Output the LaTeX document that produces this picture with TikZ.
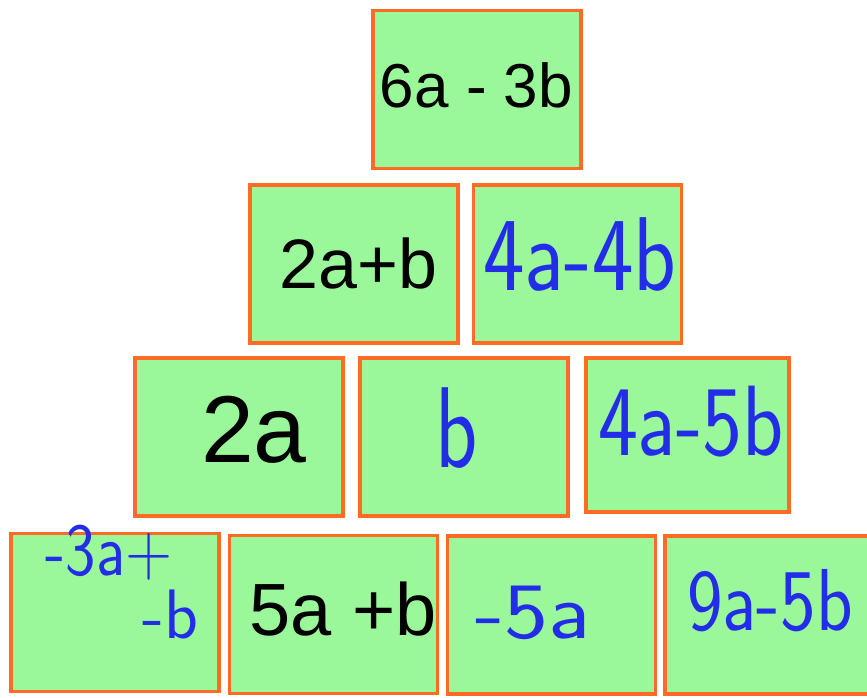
\documentclass[tikz,border=0pt]{standalone}
\usepackage{fontspec}
\setmainfont{Liberation Sans}
\definecolor{cellgreen}{RGB}{154,248,154}
\definecolor{cellorange}{RGB}{255,106,36}
\definecolor{inkblue}{RGB}{35,45,232}
\newcommand{\ink}[3]{\scalebox{#1}[1]{\fontsize{#2}{#2}\selectfont #3}}
\begin{document}
\begin{tikzpicture}[x=1pt,y=-1pt,
  cell/.style={draw=cellorange,fill=cellgreen,line width=3.5pt,minimum width=208pt,minimum height=158pt,inner sep=0pt},
  printed/.style={anchor=base,inner sep=0pt,text=black},
  hand/.style={anchor=base,inner sep=0pt,text=inkblue,font=\sffamily}]
  \useasboundingbox (0,0) rectangle (867,697);
  \node[cell] (top) at (477,89.5) {};
  \node[cell] (m1) at (354,264) {}; \node[cell] (m2) at (577.5,264) {};
  \node[cell] (l1) at (239,437) {}; \node[cell] (l2) at (464,437) {};
  \node[cell,minimum width=203pt,minimum height=154pt] (l3) at (687.5,435) {};
  \node[cell] (b1) at (115,612.5) {}; \node[cell] (b2) at (333.5,614.5) {};
  \node[cell] (b3) at (551.5,615) {}; \node[cell] (b4) at (769,615) {};
  \node[printed,font=\fontsize{62}{62}\selectfont] (ttop) at (476.5,107) {6a - 3b};
  \node[printed,font=\fontsize{70}{70}\selectfont] (tm1) at (358.5,288) {2a+b};
  \node[printed,font=\fontsize{95}{95}\selectfont] (tl1) at (254,462) {2a};
  \node[printed,font=\fontsize{74}{74}\selectfont] (tb2) at (343,635) {5a +b};
  \node[hand] (tm2) at (580,290) {\ink{0.84}{105}{4a-4b}};
  \node[hand] (tl2) at (457,467) {\ink{0.76}{115}{b}};
  \node[hand] (tl3) at (691,455) {\ink{0.85}{100}{4a-5b}};
  \node[hand] (tb3) at (533,638) {\ink{1.17}{80}{-5a}};
  \node[hand] (tb4) at (770,630) {\ink{0.86}{88}{9a-5b}};
  \node[hand] (tb1a) at (109,575) {\ink{0.86}{75}{-3a+}};
  \node[hand] (tb1b) at (170,638) {\ink{1}{70}{-b}};
\end{tikzpicture}
\end{document}
